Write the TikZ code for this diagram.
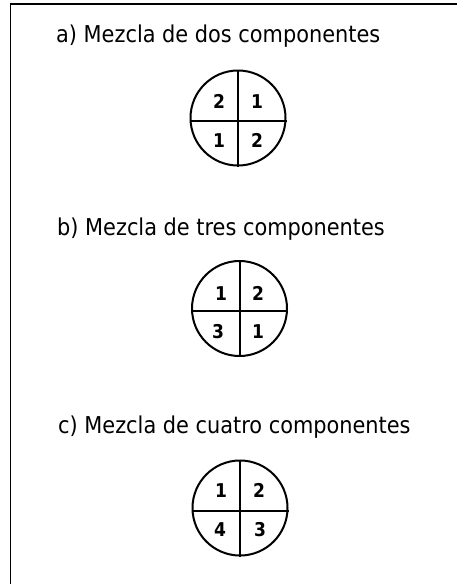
\documentclass[tikz,border=0pt]{standalone}
\usepackage{fontspec}
\setmainfont{DejaVu Sans Condensed}
\usepackage{tikz}
\usetikzlibrary{calc, positioning}

\begin{document}
\begin{tikzpicture}[x=1pt, y=-1pt,
					title/.style={anchor=base west, inner sep=0pt, font=\fontsize{23.2}{27}\selectfont},
					mix/.style={draw, circle, line width=2pt, minimum size=95pt, inner sep=0pt},
					cut/.style={line width=2pt},
					num/.style={anchor=base, inner sep=0pt, font=\fontsize{19}{22}\selectfont\bfseries}]
					\useasboundingbox (0,0) rectangle (457,584);
					\draw[line width=1.8pt] (10.5,584) -- (10.5,4) -- (457,4);
					% a) dos componentes
					\node[title] (titA) at (56,42) {a) Mezcla de dos componentes};
					\node[mix] (mixA) at (238,118) {};
					\draw[cut] (mixA.north) -- (mixA.south);
					\draw[cut] ($(mixA.west)+(0,2.5)$) -- ($(mixA.east)+(0,2.5)$);
					\node[num] (a11) at (219,108) {2};
					\node[num] (a12) at (257,108) {1};
					\node[num] (a21) at (219,147) {1};
					\node[num] (a22) at (257,147) {2};
					% b) tres componentes
					\node[title] (titB) at (57,235) {b) Mezcla de tres componentes};
					\node[mix] (mixB) at (239.5,308.5) {};
					\draw[cut] (mixB.north) -- (mixB.south);
					\draw[cut] ($(mixB.west)+(0,2.5)$) -- ($(mixB.east)+(0,2.5)$);
					\node[num] (b11) at (221,300) {1};
					\node[num] (b12) at (258,300) {2};
					\node[num] (b21) at (218,338) {3};
					\node[num] (b22) at (258,338) {1};
					% c) cuatro componentes
					\node[title] (titC) at (58,433) {c) Mezcla de cuatro componentes};
					\node[mix] (mixC) at (240,508) {};
					\draw[cut] (mixC.north) -- (mixC.south);
					\draw[cut] ($(mixC.west)+(0,2.5)$) -- ($(mixC.east)+(0,2.5)$);
					\node[num] (c11) at (221,497) {1};
					\node[num] (c12) at (259,497) {2};
					\node[num] (c21) at (220,536) {4};
					\node[num] (c22) at (260,536) {3};
				\end{tikzpicture}
\end{document}
